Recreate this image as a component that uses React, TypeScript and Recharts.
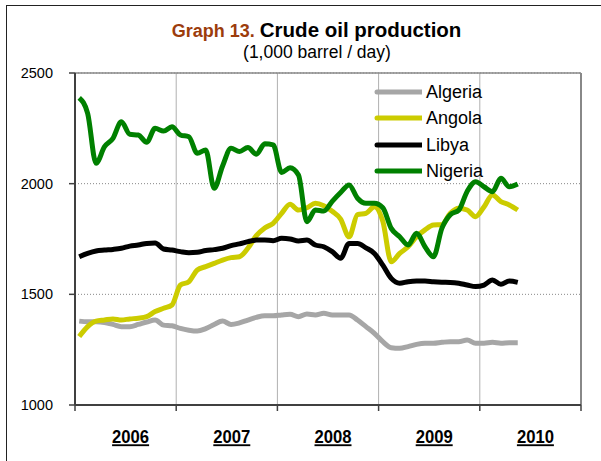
import React from 'react';
import { LineChart, Line, XAxis, YAxis, CartesianGrid, ReferenceLine } from 'recharts';

const FONT = "'Liberation Sans', Arial, sans-serif";

const seriesNames = ['Algeria', 'Angola', 'Libya', 'Nigeria'];
const seriesColors = ['#a6a6a6', '#cccc00', '#000000', '#008000'];

const years = ['2006', '2007', '2008', '2009', '2010'];
const yTicks = [1000, 1500, 2000, 2500];

// Monthly values, Jan 2006 – May 2010
const algeria = [1379, 1376, 1376, 1373, 1364, 1354, 1354, 1364, 1375, 1384, 1361, 1358,
  1346, 1338, 1334, 1345, 1364, 1379, 1364, 1371, 1384, 1396, 1403, 1403,
  1407, 1410, 1399, 1411, 1407, 1414, 1407, 1407, 1407, 1384, 1354, 1324,
  1286, 1259, 1256, 1264, 1274, 1279, 1279, 1283, 1286, 1286, 1294, 1279,
  1279, 1283, 1279, 1281, 1281];
const angola = [1309, 1354, 1379, 1384, 1389, 1384, 1389, 1392, 1399, 1422, 1437, 1452,
  1542, 1557, 1610, 1625, 1640, 1655, 1666, 1670, 1708, 1765, 1800, 1821,
  1866, 1907, 1881, 1891, 1911, 1900, 1875, 1840, 1760, 1860, 1866, 1896,
  1830, 1647, 1685, 1715, 1760, 1791, 1813, 1815, 1866, 1889, 1881, 1851,
  1895, 1949, 1919, 1904, 1881];
const libya = [1670, 1685, 1696, 1700, 1703, 1708, 1718, 1723, 1730, 1732, 1705, 1700,
  1693, 1688, 1690, 1698, 1702, 1708, 1720, 1728, 1738, 1745, 1746, 1742,
  1753, 1750, 1741, 1745, 1723, 1715, 1693, 1663, 1730, 1730, 1710, 1685,
  1632, 1572, 1550, 1557, 1560, 1560, 1557, 1555, 1554, 1550, 1542, 1535,
  1542, 1565, 1545, 1560, 1554];
const nigeria = [2388, 2318, 2092, 2167, 2205, 2280, 2223, 2220, 2187, 2250, 2238, 2257,
  2220, 2212, 2137, 2152, 1979, 2080, 2160, 2145, 2163, 2133, 2180, 2175,
  2051, 2072, 2039, 1828, 1881, 1876, 1920, 1960, 1994, 1934, 1911, 1911,
  1891, 1798, 1760, 1723, 1776, 1715, 1670, 1798, 1860, 1880, 1965, 2009,
  1986, 1964, 2024, 1986, 1998];

const seriesValues = [algeria, angola, libya, nigeria];

const data = algeria.map((_, i) => {
  const row: Record<string, number> = { t: i + 0.5 };
  seriesNames.forEach((n, k) => { row[n] = seriesValues[k][i]; });
  return row;
});

const yearBounds = years.map((_, k) => k * 12).concat([years.length * 12]);
const yearMids = years.map((_, k) => k * 12 + 6);

const YearTick = (props: any) => {
  const { x, y, payload } = props;
  const idx = yearMids.indexOf(payload.value);
  return (
    <text x={x + 5} y={y + 28.3} textAnchor="middle" fontFamily={FONT} fontWeight="bold"
      fontSize={18.5} fill="#000" textDecoration="underline" textLength={37} lengthAdjust="spacingAndGlyphs">
      {years[idx]}
    </text>
  );
};

const LegendBox = () => (
  <div style={{ position: 'absolute', left: 374, top: 79 }}>
    {seriesNames.map((n, k) => (
      <div key={n} style={{ display: 'flex', alignItems: 'center', height: 26.3 }}>
        <svg width={48} height={8} style={{ marginRight: 4 }}>
          <line x1={3} y1={4} x2={48} y2={4} stroke={seriesColors[k]} strokeWidth={5} strokeLinecap="round" />
        </svg>
        <span style={{ fontFamily: FONT, fontSize: 18, color: '#000', lineHeight: '26px' }}>{n}</span>
      </div>
    ))}
  </div>
);

export default function App() {
  return (
    <div style={{ position: 'absolute', left: 0, top: 0, width: 601, height: 461, overflow: 'hidden', background: '#fff' }}>
      <div style={{ position: 'absolute', left: 6, top: 5, width: 700, height: 600, borderLeft: '1.5px solid #222', borderTop: '1.5px solid #222' }} />
      <svg width={601} height={80} style={{ position: 'absolute', left: 0, top: 0 }}>
        <text x={316.6} y={37.3} textAnchor="middle" fontFamily={FONT} fontWeight="bold">
          <tspan fill="#9c3c0c" fontSize={18}>Graph 13. </tspan>
          <tspan fill="#000" fontSize={20.5}>Crude oil production</tspan>
        </text>
        <text x={317} y={58} textAnchor="middle" fontFamily={FONT} fontSize={17.5} fill="#000">
          (1,000 barrel / day)
        </text>
      </svg>
      <div style={{ position: 'absolute', left: 0, top: 0 }}>
        <LineChart width={601} height={461} data={data} margin={{ top: 73, right: 20, left: 0, bottom: 0 }}>
          <CartesianGrid vertical={false} stroke="#888" strokeDasharray="1 2" />
          {yearBounds.slice(1, -1).map((b) => (
            <ReferenceLine key={b} x={b} stroke="#b0b0b0" strokeWidth={1} />
          ))}
          <ReferenceLine y={2500} stroke="#888" strokeWidth={1.5} />
          <ReferenceLine x={60} stroke="#888" strokeWidth={2} />
          <XAxis dataKey="t" type="number" domain={[0, 60]} ticks={yearBounds} height={10}
            tickFormatter={() => ''} tickSize={6} axisLine={{ stroke: '#404040', strokeWidth: 2 }}
            tickLine={{ stroke: '#404040', strokeWidth: 1.5 }} interval={0} />
          <XAxis xAxisId="year" dataKey="t" type="number" domain={[0, 60]} ticks={yearMids} height={46}
            axisLine={false} tickLine={false} tickSize={0} tickMargin={0} tick={<YearTick />} interval={0} />
          <YAxis domain={[1000, 2500]} ticks={yTicks} width={75} tickSize={6} tickMargin={16}
            axisLine={{ stroke: '#404040', strokeWidth: 2 }} tickLine={{ stroke: '#404040', strokeWidth: 1.5 }}
            tick={{ fontFamily: FONT, fontSize: 14.5, fill: '#000' }} interval={0} />
          {seriesNames.map((n, k) => (
            <Line key={n} dataKey={n} name={n} type="monotone" stroke={seriesColors[k]} strokeWidth={5}
              dot={false} activeDot={false} isAnimationActive={false} />
          ))}
        </LineChart>
      </div>
      <LegendBox />
    </div>
  );
}
